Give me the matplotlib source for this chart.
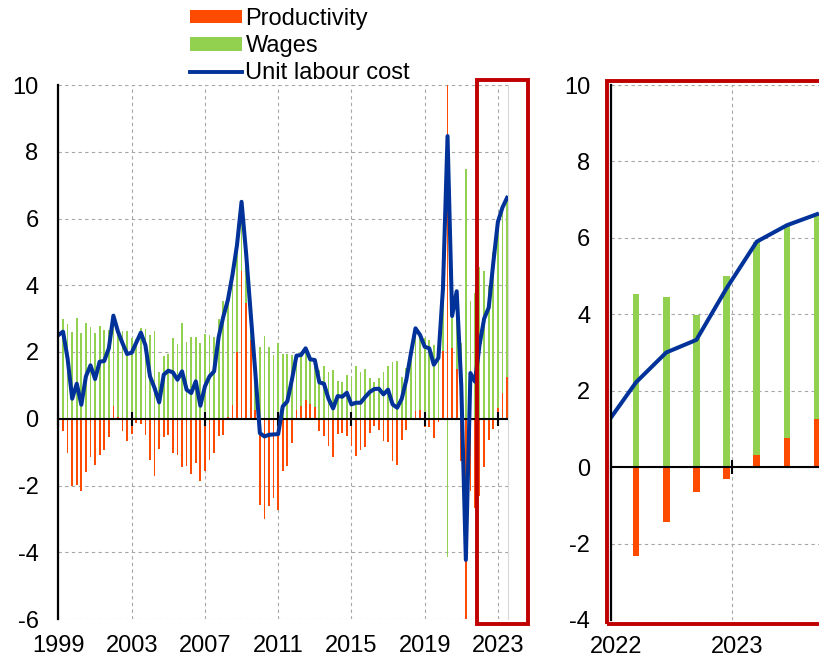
import numpy as np
import matplotlib
matplotlib.use("Agg")
import matplotlib.pyplot as plt
from matplotlib.patches import Patch, Rectangle
from matplotlib.lines import Line2D
from matplotlib.transforms import ScaledTranslation

plt.rcParams["font.family"] = ["Liberation Sans", "DejaVu Sans"]
plt.rcParams["axes.unicode_minus"] = False

ORANGE = "#FF4B00"
GREEN = "#92D050"
BLUE = "#003299"
RED = "#C00000"
GRID = "#a6a6a6"
FS = 17

# quarterly data, 1999Q1 .. 2023Q3 (annual % changes / contributions)
first_year = 1999
year_labels_full = [1999, 2003, 2007, 2011, 2015, 2019, 2023]
year_labels_zoom = [2022, 2023]

productivity = [
    -0.30, -0.38, -1.04, -2.00,   # 1999
    -1.98, -2.15, -1.60, -1.15,   # 2000
    -1.39, -1.08, -0.93, -0.55,   # 2001
    0.37, 0.05, -0.37, -0.68,     # 2002
    -0.45, -0.12, -0.15, -0.50,   # 2003
    -1.24, -1.71, -0.90, -0.56,   # 2004
    -0.50, -1.02, -1.08, -1.44,   # 2005
    -1.43, -1.67, -1.33, -1.87,   # 2006
    -1.57, -1.23, -1.03, -0.53,   # 2007
    -0.48, 0.05, 0.42, 2.00,      # 2008
    4.43, 3.46, 2.36, 0.25,       # 2009
    -2.57, -3.00, -2.62, -2.37,   # 2010
    -2.74, -1.57, -1.43, -0.73,   # 2011
    0.27, 0.39, 0.55, 0.45,       # 2012
    0.35, -0.38, -0.53, -0.81,    # 2013
    -1.15, -0.45, -0.43, -0.53,   # 2014
    -0.83, -1.11, -0.93, -0.85,   # 2015
    -0.43, -0.21, -0.33, -0.68,   # 2016
    -0.70, -1.28, -1.40, -0.65,   # 2017
    -0.35, -0.05, 0.22, 0.27,     # 2018
    -0.25, -0.25, -0.58, -0.10,   # 2019
    2.04, 12.60, 2.12, 1.50,      # 2020
    -1.27, -11.70, -2.16, -2.67,  # 2021
    -2.32, -1.44, -0.65, -0.32,   # 2022
    0.33, 0.76, 1.25,             # 2023
]

wages = [
    2.81, 2.99, 2.84, 2.60,
    3.03, 2.57, 2.87, 2.75,
    2.58, 2.79, 2.66, 2.66,
    2.72, 2.56, 2.63, 2.62,
    2.43, 2.40, 2.73, 2.70,
    2.51, 2.63, 1.39, 1.88,
    1.94, 2.41, 2.25, 2.86,
    2.30, 2.44, 2.45, 2.26,
    2.54, 2.50, 2.45, 2.98,
    3.53, 3.50, 3.88, 3.20,
    2.07, 1.49, 0.79, 1.15,
    2.14, 2.47, 2.14, 1.90,
    2.28, 1.94, 1.95, 1.90,
    1.62, 1.52, 1.56, 1.33,
    1.41, 1.47, 1.58, 1.41,
    1.46, 1.13, 1.09, 1.31,
    1.26, 1.59, 1.41, 1.50,
    1.23, 1.10, 1.23, 1.41,
    1.57, 1.71, 1.73, 1.25,
    1.52, 2.01, 2.49, 2.24,
    2.41, 2.36, 2.20, 1.92,
    1.86, -4.13, 0.96, 2.32,
    2.27, 7.47, 3.53, 3.78,
    4.54, 4.44, 3.98, 5.00,
    5.57, 5.57, 5.37,
]

unit_labour_cost = [
    2.51, 2.61, 1.80, 0.60,
    1.05, 0.42, 1.27, 1.60,
    1.19, 1.71, 1.73, 2.11,
    3.09, 2.61, 2.26, 1.94,
    1.98, 2.28, 2.58, 2.20,
    1.27, 0.92, 0.49, 1.32,
    1.44, 1.39, 1.17, 1.42,
    0.87, 0.77, 1.12, 0.39,
    0.97, 1.27, 1.42, 2.45,
    3.05, 3.55, 4.30, 5.20,
    6.50, 4.95, 3.15, 1.40,
    -0.43, -0.53, -0.48, -0.47,
    -0.46, 0.37, 0.52, 1.17,
    1.89, 1.91, 2.11, 1.78,
    1.76, 1.09, 1.05, 0.60,
    0.31, 0.68, 0.66, 0.78,
    0.43, 0.48, 0.48, 0.65,
    0.80, 0.89, 0.90, 0.73,
    0.87, 0.43, 0.33, 0.60,
    1.17, 1.96, 2.71, 2.51,
    2.16, 2.11, 1.62, 1.82,
    3.90, 8.47, 3.08, 3.82,
    1.00, -4.23, 1.37, 1.11,
    2.22, 3.00, 3.33, 4.68,
    5.90, 6.33, 6.62,
]

prod = np.array(productivity)
wag = np.array(wages)
ulc = np.array(unit_labour_cost)
q = np.arange(len(ulc))
# stacked like a spreadsheet: positives pile up, negatives pile down
wag_bottom = np.where(wag >= 0, np.maximum(prod, 0), np.minimum(prod, 0))


def draw_panel(ax, width):
    ax.bar(q, prod, width, color=ORANGE, linewidth=0, zorder=2)
    ax.bar(q, wag, width, bottom=wag_bottom, color=GREEN, linewidth=0, zorder=2)
    ax.axhline(0, color="black", lw=1.5, zorder=3)
    ax.plot(q, ulc, color=BLUE, lw=2.9, zorder=5, solid_joinstyle="round")
    ax.grid(True, color=GRID, linestyle=(0, (3, 3)), lw=0.8, zorder=0)
    ax.set_axisbelow(True)
    for s in ["top", "bottom", "right"]:
        ax.spines[s].set_visible(False)
    ax.spines["left"].set_color("black")
    ax.spines["left"].set_linewidth(1.6)
    ax.spines["left"].set_zorder(6)
    ax.tick_params(axis="both", length=0, labelsize=FS)
    ax.tick_params(axis="y", pad=14)
    ax.tick_params(axis="x", pad=11.5)


fig = plt.figure(figsize=(8.19, 6.58), dpi=100)

# full history
ax1 = fig.add_axes([58 / 819, 39 / 658, 449.5 / 819, 534 / 658])
draw_panel(ax1, 0.38)
full_ticks = [4 * (y - first_year) for y in year_labels_full]
ax1.set_xticks(full_ticks)
ax1.set_xticklabels([str(y) for y in year_labels_full])
ax1.set_xlim(-0.1, 98.1)
ax1.set_ylim(-6, 10)
ax1.set_yticks(np.arange(-6, 11, 2))
ax1.spines["right"].set_visible(True)
ax1.spines["right"].set_color("#d9d9d9")
ax1.plot(full_ticks, [0] * len(full_ticks), ls="none", marker="|",
         ms=10, mew=1.5, color="black", zorder=4, clip_on=False)

# zoom on the latest quarters
ax2 = fig.add_axes([611 / 819, 38 / 658, 229 / 819, 535 / 658])
draw_panel(ax2, 0.22)
zoom_ticks = [4 * (y - first_year) - 0.82 for y in year_labels_zoom]
ax2.set_xticks(zoom_ticks)
ax2.set_xticklabels([str(y) for y in year_labels_zoom])
ax2.set_xlim(91.17, 98.76)
ax2.set_ylim(-4, 10)
ax2.set_yticks(np.arange(-4, 11, 2))
ax2.tick_params(axis="y", pad=15)
shift = ScaledTranslation(5 / 100, 0, fig.dpi_scale_trans)
for lab in ax2.get_xticklabels():
    lab.set_transform(lab.get_transform() + shift)
ax2.plot(zoom_ticks, [0] * len(zoom_ticks), ls="none", marker="|",
         ms=10, mew=1.5, color="black", zorder=4, clip_on=False)

# red highlight frames
fig.add_artist(Rectangle((477 / 819, 34 / 658), 51 / 819, 544 / 658,
                         transform=fig.transFigure, fill=False,
                         edgecolor=RED, lw=2.8))
fig.add_artist(Rectangle((607 / 819, 34 / 658), 240 / 819, 543.5 / 658,
                         transform=fig.transFigure, fill=False,
                         edgecolor=RED, lw=2.8))

handles = [
    Patch(facecolor=ORANGE, edgecolor="none", label="Productivity"),
    Patch(facecolor=GREEN, edgecolor="none", label="Wages"),
    Line2D([], [], color=BLUE, lw=2.8, label="Unit labour cost"),
]
fig.legend(handles=handles, loc="upper left", bbox_to_anchor=(190 / 819, 1 - 8 / 658),
           frameon=False, fontsize=FS, handlelength=2.2, handleheight=0.51,
           handletextpad=0.15, labelspacing=0.22, borderpad=0, borderaxespad=0)

fig.savefig("out.png", dpi=100)
